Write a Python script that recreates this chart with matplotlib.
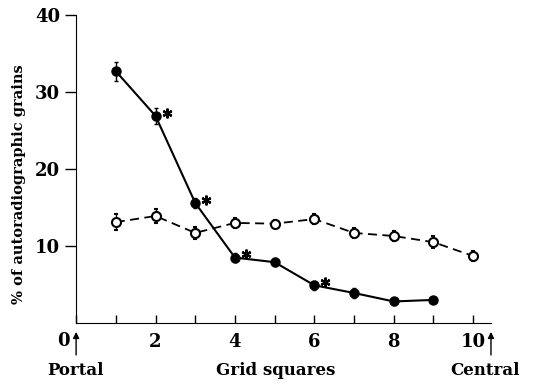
import matplotlib.pyplot as plt
import matplotlib.transforms as mtransforms

plt.rcParams['font.family'] = ['DejaVu Serif']
plt.rcParams['font.weight'] = 'bold'

# filled circles (solid line)
x_filled = [1, 2, 3, 4, 5, 6, 7, 8, 9]
y_filled = [32.7, 26.9, 15.6, 8.5, 7.9, 4.9, 3.9, 2.8, 3.0]
err_filled = [1.25, 1.0, 0.7, 0.6, 0.5, 0.6, 0.6, 0.5, 0.0]
star_x = [2, 3, 4, 6]

# open circles (dashed line)
x_open = [1, 2, 3, 4, 5, 6, 7, 8, 9, 10]
y_open = [13.1, 13.9, 11.7, 13.0, 12.9, 13.5, 11.7, 11.3, 10.5, 8.7]
err_open = [1.0, 0.9, 0.8, 0.6, 0.5, 0.6, 0.7, 0.6, 0.8, 0.6]

fig = plt.figure(figsize=[5.36, 3.85], dpi=100)
ax = fig.add_axes([0.142, 0.161, 0.774, 0.8])

ax.errorbar(x_open, y_open, yerr=err_open, fmt='o', ls=(0, (5, 3)), color='black',
            mfc='white', mec='black', ms=6.5, mew=1.5, lw=1.3, capsize=1.5, elinewidth=1)
ax.errorbar(x_filled, y_filled, yerr=err_filled, fmt='o', ls='-', color='black',
            ms=6.5, lw=1.5, capsize=1.5, elinewidth=1)
star_y = [y_filled[x_filled.index(sx)] for sx in star_x]
ax.plot([sx + 0.28 for sx in star_x], [sy + 0.4 for sy in star_y], ls='none',
        marker=(6, 2, 0), ms=7, mew=1.6, color='black')

ax.set_xlim(0, 10.45)
ax.set_ylim(0, 40)
ax.spines['top'].set_visible(False)
ax.spines['right'].set_visible(False)
ax.set_yticks([10, 20, 30, 40])
ax.set_yticklabels(['10', '20', '30', '40'], fontsize=13, fontweight='bold')
ax.tick_params(axis='y', direction='out', length=8, width=1)
ax.set_xticks([0, 2, 4, 6, 8, 10])
ax.set_xticklabels(['', '2', '4', '6', '8', '10'], fontsize=13, fontweight='bold')
ax.set_xticks([1, 3, 5, 7, 9], minor=True)
ax.tick_params(axis='x', which='both', direction='in', length=6, width=1, pad=7)
ax.set_ylabel('% of autoradiographic grains', fontsize=10.5, fontweight='bold')
ax.yaxis.set_label_coords(-0.12, 0.45)

# "0" label sits left of the axis, arrows at both ends of the x axis
trans = mtransforms.blended_transform_factory(ax.transData, fig.transFigure)
ax.text(-0.33, 0.113, '0', transform=trans, fontsize=13, fontweight='bold',
        ha='center', va='center')
for ax_end in [0, 10.45]:
    ax.annotate('', xy=(ax_end, 0.138), xytext=(ax_end, 0.078), xycoords=trans, textcoords=trans,
                arrowprops=dict(arrowstyle='-|>', color='black', lw=1, mutation_scale=9,
                                shrinkA=0, shrinkB=0),
                annotation_clip=False)

fig.text(0.14, 0.038, 'Portal', fontsize=12, fontweight='bold', ha='center', va='center')
fig.text(0.515, 0.038, 'Grid squares', fontsize=12, fontweight='bold', ha='center', va='center')
fig.text(0.905, 0.038, 'Central', fontsize=12, fontweight='bold', ha='center', va='center')

plt.savefig('out.png', dpi=100)
